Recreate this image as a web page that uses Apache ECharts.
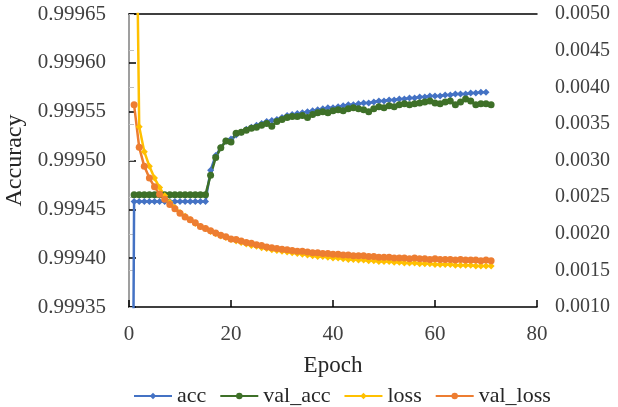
<!DOCTYPE html>
<html>
<head>
<meta charset="utf-8">
<script src="https://cdn.jsdelivr.net/npm/echarts@6/dist/echarts.min.js"></script>
<style>
html,body{margin:0;padding:0;background:#fff;}
#c{width:618px;height:407px;}
</style>
</head>
<body>
<div id="c"></div>
<script>
// acc is logged from epoch 0, the other series from epoch 1
var accEpochs = [];
for (var i = 0; i <= 70; i++) accEpochs.push(i);
var epochs = [];
for (var j = 1; j <= 71; j++) epochs.push(j);

var acc = [0.99850,
  0.999458,0.999458,0.999458,0.999458,0.999458,0.999458,0.999458,0.999458,0.999458,0.999458,0.999458,0.999458,0.999458,0.999458,0.999458,
  0.999490,0.999505,0.999513,0.999520,0.999522,0.999526,0.999529,0.999532,0.999534,0.999536,
  0.999538,0.999540,0.999541,0.999542,0.999544,0.999546,0.999547,0.999548,0.999549,0.999550,
  0.999551,0.999552,0.999553,0.999554,0.999554,0.999555,0.999556,0.999557,0.999557,0.999558,
  0.999559,0.999559,0.999560,0.999561,0.999561,0.999562,0.999562,0.999563,0.999563,0.999564,
  0.999564,0.999565,0.999565,0.999566,0.999566,0.999566,0.999567,0.999567,0.999568,0.999568,
  0.999568,0.999569,0.999569,0.999570,0.999570];

var valAcc = [0.999465,0.999465,0.999465,0.999465,0.999465,0.999465,0.999465,0.999465,0.999465,0.999465,0.999465,0.999465,0.999465,0.999465,0.999465,
  0.999485,0.999503,0.999513,0.999520,0.999519,0.999528,0.999529,0.999531,0.999533,0.999534,
  0.999536,0.999538,0.999535,0.999540,0.999542,0.999544,0.999545,0.999545,0.999546,0.999544,
  0.999547,0.999549,0.999550,0.999549,0.999551,0.999552,0.999551,0.999553,0.999554,0.999553,
  0.999552,0.999550,0.999553,0.999555,0.999554,0.999556,0.999555,0.999557,0.999558,0.999557,
  0.999558,0.999559,0.999560,0.999561,0.999559,0.999558,0.999560,0.999561,0.999557,0.999560,
  0.999563,0.999561,0.999557,0.999558,0.999558,0.999557];

var loss = [0.0092,0.00346,0.00312,0.00292,0.00276,0.00263,0.00252,0.00243,0.00236,0.00229,
  0.00224,0.00219,0.00214,0.00210,0.00207,0.00203,0.00200,0.00197,0.00195,0.00192,
  0.00190,0.00188,0.00186,0.00184,0.00183,0.00181,0.00180,0.00178,0.00177,0.00176,
  0.00175,0.00174,0.00173,0.00172,0.00171,0.00170,0.00169,0.00169,0.00168,0.00167,
  0.00167,0.00166,0.00165,0.00165,0.00164,0.00164,0.00163,0.00163,0.00162,0.00162,
  0.00162,0.00161,0.00161,0.00160,0.00160,0.00160,0.00159,0.00159,0.00159,0.00158,
  0.00158,0.00158,0.00158,0.00157,0.00157,0.00157,0.00157,0.00156,0.00156,0.00156,0.00156];

var valLoss = [0.00376,0.00318,0.00292,0.00276,0.00264,0.00254,0.00247,0.00240,0.00234,0.00228,
  0.00223,0.00219,0.00215,0.00210,0.00207,0.00204,0.00201,0.00198,0.00196,0.00193,
  0.00192,0.00190,0.00188,0.00187,0.00185,0.00184,0.00182,0.00181,0.00180,0.00179,
  0.00178,0.00177,0.00176,0.00176,0.00175,0.00174,0.00174,0.00173,0.00173,0.00172,
  0.00172,0.00171,0.00171,0.00170,0.00170,0.00170,0.00169,0.00169,0.00168,0.00168,
  0.00168,0.00167,0.00167,0.00167,0.00166,0.00167,0.00166,0.00166,0.00165,0.00166,
  0.00165,0.00165,0.00165,0.00164,0.00165,0.00164,0.00164,0.00164,0.00163,0.00164,0.00163];

var seriesNames = ['acc', 'val_acc', 'loss', 'val_loss'];
var xTicks = [0, 20, 40, 60, 80];
var leftTicks = [0.99935, 0.99940, 0.99945, 0.99950, 0.99955, 0.99960, 0.99965];
var rightTicks = [0.0010, 0.0015, 0.0020, 0.0025, 0.0030, 0.0035, 0.0040, 0.0045, 0.0050];

function pairs(xs, ys) { return ys.map(function (v, i) { return [xs[i], v]; }); }

var FONT = 'Liberation Serif';
var chart = echarts.init(document.getElementById('c'));
var colors = ['#4472C4', '#3E7028', '#FFC000', '#ED7D31'];
var symbols = ['diamond', 'circle', 'diamond', 'circle'];
var datasets = [acc, valAcc, loss, valLoss];
var xsets = [accEpochs, epochs, epochs, epochs];
var yIdx = [0, 0, 1, 1];

chart.setOption({
  animation: false,
  color: colors,
  grid: { left: 129, right: 81, top: 14, bottom: 100, containLabel: false, outerBoundsMode: 'none' },
  legend: {
    top: 385, left: 133, padding: 0,
    itemWidth: 38, itemHeight: 8, itemGap: 13,
    textStyle: { fontFamily: FONT, fontSize: 22, color: '#262626' },
    data: seriesNames
  },
  xAxis: [{
    type: 'value', min: xTicks[0], max: xTicks[xTicks.length - 1], interval: 20,
    name: 'Epoch', nameLocation: 'middle', nameGap: 47,
    nameTextStyle: { fontFamily: FONT, fontSize: 23, color: '#262626' },
    axisLine: { show: true, lineStyle: { color: '#000', width: 1.5 } },
    axisTick: { show: true, inside: true, length: 7, lineStyle: { color: '#000', width: 1.5 } },
    axisLabel: { fontFamily: FONT, fontSize: 21, color: '#404040', margin: 17 },
    splitLine: { show: false }
  }, {
    type: 'value', position: 'top', min: 0, max: 80, interval: 20,
    axisLine: { show: true, lineStyle: { color: '#000', width: 1.5 } },
    axisTick: { show: false }, axisLabel: { show: false }, splitLine: { show: false }
  }],
  yAxis: [{
    type: 'value', min: leftTicks[0], max: leftTicks[leftTicks.length - 1], interval: 0.00005,
    name: 'Accuracy', nameLocation: 'middle', nameGap: 96, nameRotate: 90,
    nameTextStyle: { fontFamily: FONT, fontSize: 24, color: '#262626' },
    axisLine: { show: true, lineStyle: { color: '#000', width: 1.5 } },
    axisTick: { show: true, inside: true, length: 7, lineStyle: { color: '#000', width: 1.5 } },
    axisLabel: { fontFamily: FONT, fontSize: 21, color: '#404040', margin: 23,
      formatter: function (v) { return v.toFixed(5); } },
    splitLine: { show: false }
  }, {
    type: 'value', position: 'right', min: rightTicks[0], max: rightTicks[rightTicks.length - 1], interval: 0.0005,
    axisLine: { show: true, lineStyle: { color: '#BFBFBF', width: 1.5 } },
    axisTick: { show: true, inside: false, length: 5, lineStyle: { color: '#BFBFBF', width: 1 } },
    axisLabel: { fontFamily: FONT, fontSize: 20, color: '#404040', margin: 18,
      formatter: function (v) { return v.toFixed(4); } },
    splitLine: { show: false }
  }],
  series: seriesNames.map(function (n, k) {
    return {
      name: n, type: 'line', yAxisIndex: yIdx[k], xAxisIndex: 0,
      data: pairs(xsets[k], datasets[k]),
      symbol: symbols[k], symbolSize: 7, showSymbol: true,
      lineStyle: { width: 2.5, color: colors[k] },
      itemStyle: { color: colors[k] },
      clip: true
    };
  })
});
</script>
</body>
</html>
